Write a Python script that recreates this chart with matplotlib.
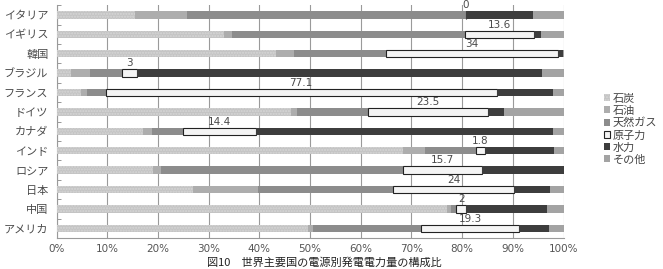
import numpy as np
import matplotlib
matplotlib.use('Agg')
import matplotlib.pyplot as plt

plt.rcParams['font.family'] = ['Noto Sans CJK JP', 'DejaVu Sans']

# Data: share of generation by source (%), top row first
countries = ['イタリア', 'イギリス', '韓国', 'ブラジル', 'フランス', 'ドイツ',
             'カナダ', 'インド', 'ロシア', '日本', '中国', 'アメリカ']
coal = [15.5, 33.0, 43.3, 2.8, 4.9, 46.2, 17.1, 68.4, 19.1, 27.0, 77.0, 49.5]
oil = [10.2, 1.5, 3.6, 3.8, 1.0, 1.3, 1.7, 4.3, 1.5, 12.8, 0.7, 1.1]
gas = [55.0, 46.0, 18.0, 6.2, 3.8, 14.0, 6.1, 10.0, 47.7, 26.5, 1.1, 21.3]
nuclear = [0, 13.6, 34, 3, 77.1, 23.5, 14.4, 1.8, 15.7, 24, 2, 19.3]
hydro = [13.3, 1.4, 1.0, 80.0, 11.2, 3.3, 58.7, 13.6, 16.0, 7.0, 15.9, 6.0]
other = [6.0, 4.5, 0.1, 4.2, 2.0, 11.7, 2.0, 1.9, 0.0, 2.7, 3.3, 2.8]
nuclear_labels = ['0', '13.6', '34', '3', '77.1', '23.5', '14.4', '1.8', '15.7', '24', '2', '19.3']
source_names = ['石炭', '石油', '天然ガス', '原子力', '水力', 'その他']
x_ticks = [0, 10, 20, 30, 40, 50, 60, 70, 80, 90, 100]

fig = plt.figure(figsize=(6.63, 2.69), dpi=100)
ax = fig.add_axes([0.0854, 0.115, 0.7646, 0.866])

y = np.arange(len(countries))
h = 0.38
left = np.zeros(len(countries))

# Coal: light gray with fine dotted texture
b_coal = ax.barh(y, coal, h, left=left, color='#c4c4c4', edgecolor='#d6d6d6',
                 linewidth=0, hatch='......', label=source_names[0], zorder=3)
left += coal
b_oil = ax.barh(y, oil, h, left=left, color='#adadad', linewidth=0,
                label=source_names[1], zorder=3)
left += oil
b_gas = ax.barh(y, gas, h, left=left, color='#8c8c8c', linewidth=0,
                label=source_names[2], zorder=3)
left += gas
b_nuc = ax.barh(y, nuclear, h, left=left, color='#f4f4f4', edgecolor='#222222',
                linewidth=0.8, label=source_names[3], zorder=3)
# nuclear value labels above the segment
for i in range(len(countries)):
    ax.text(left[i] + nuclear[i] / 2, y[i] - 0.5, nuclear_labels[i],
            ha='center', va='center', fontsize=7.5, color='#4a4a4a',
            family='DejaVu Sans', zorder=4)
left += nuclear
b_hyd = ax.barh(y, hydro, h, left=left, color='#3d3d3d', linewidth=0,
                label=source_names[4], zorder=3)
left += hydro
b_oth = ax.barh(y, other, h, left=left, color='#a3a3a3', linewidth=0,
                label=source_names[5], zorder=3)

ax.set_xlim(0, 100)
ax.set_ylim(len(countries) - 0.5, -0.5)
ax.set_xticks(x_ticks)
ax.set_xticklabels([f'{t}%' for t in x_ticks], fontsize=7.5, color='#555555',
                   family='DejaVu Sans')
ax.set_yticks(y)
ax.set_yticklabels(countries, fontsize=8, color='#4a4a4a')
ax.set_yticks(np.arange(len(countries) + 1) - 0.5, minor=True)
ax.tick_params(axis='y', which='major', length=0, pad=6)
ax.tick_params(axis='y', which='minor', length=3, direction='in', color='#888888')
ax.tick_params(axis='x', length=0, pad=4)

ax.grid(axis='x', color='#9a9a9a', linewidth=0.8, zorder=0)
for s in ['top', 'right']:
    ax.spines[s].set_visible(False)
for s in ['left', 'bottom']:
    ax.spines[s].set_color('#9a9a9a')

fig.legend(handles=[b_coal, b_oil, b_gas, b_nuc, b_hyd, b_oth],
           loc='upper left', bbox_to_anchor=(0.902, 0.672), frameon=False,
           fontsize=8, handlelength=0.6, handleheight=0.6, handletextpad=0.2,
           labelspacing=0.18, borderpad=0, labelcolor='#444444')

# caption under the chart
fig.text(0.49, 1 - 257 / 269, '図10　世界主要国の電源別発電電力量の構成比',
         ha='center', va='top', fontsize=8, color='#222222')

fig.savefig('out.png', dpi=100)
